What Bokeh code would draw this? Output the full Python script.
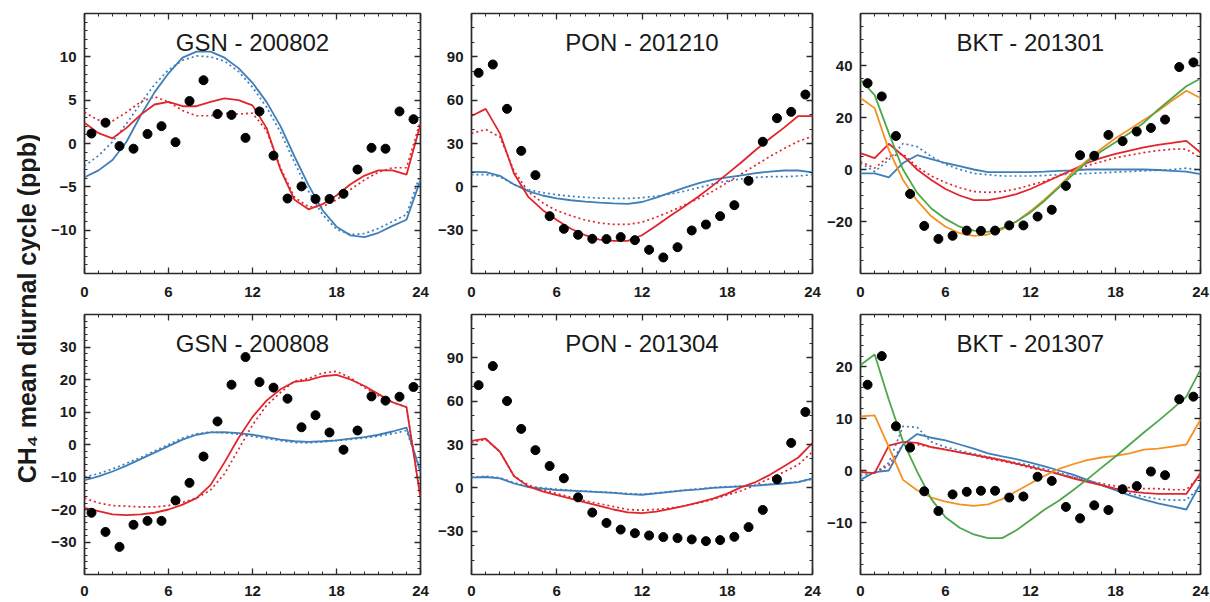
import math
import numpy as np
from bokeh.plotting import figure
from bokeh.layouts import row, column
from bokeh.models import Label, FixedTicker, LinearAxis, Range1d, CustomJSTickFormatter
from bokeh.embed import file_html
from bokeh.resources import INLINE

# ---------------- data ----------------
hours = list(range(25))                    # model output, hourly
obs_hours = [h + 0.5 for h in range(24)]   # observations, half-hour centred

x_ticks = [0, 6, 12, 18, 24]

# GSN - 200802
gsn0802_obs = [1.15, 2.4, -0.3, -0.6, 1.1, 2.0, 0.15, 4.9, 7.3, 3.4, 3.3, 0.65, 3.7, -1.4,
               -6.35, -4.95, -6.4, -6.4, -5.8, -3.0, -0.5, -0.6, 3.7, 2.8]
gsn0802_blue = [-3.9, -3.1, -1.9, 0.2, 3.2, 5.9, 8.1, 9.9, 10.6, 10.6, 9.9, 8.7, 7.0, 4.8, 2.0,
                -1.5, -4.8, -7.7, -9.6, -10.6, -10.8, -10.3, -9.5, -8.8, -4.2]
gsn0802_blue_dot = [-2.6, -1.4, 0.2, 2.3, 4.6, 6.8, 8.5, 9.6, 10.1, 10.0, 9.5, 8.3, 6.5, 4.2, 1.3,
                    -2.2, -5.5, -8.2, -9.9, -10.5, -10.4, -9.8, -9.0, -8.2, -3.5]
gsn0802_red = [2.4, 1.2, 0.6, 1.8, 3.3, 4.5, 4.8, 4.3, 4.3, 4.8, 5.2, 5.0, 4.4, 1.8, -3.0,
               -6.5, -7.6, -7.0, -6.0, -4.7, -3.7, -3.1, -3.1, -3.6, 2.2]
gsn0802_red_dot = [3.6, 2.7, 2.6, 3.6, 4.8, 5.4, 4.8, 3.8, 3.2, 3.2, 3.5, 3.4, 3.5, 1.5, -2.8,
                   -6.2, -7.3, -7.3, -6.5, -5.3, -4.2, -3.3, -2.8, -2.8, 2.6]

# PON - 201210
pon1210_obs = [78.9, 84.7, 54.0, 24.9, 8.1, -20.3, -29.1, -33.2, -36.0, -36.2, -34.8, -36.9,
               -43.6, -48.9, -41.8, -30.2, -26.1, -20.3, -12.7, 4.2, 31.2, 47.5, 51.9, 63.9]
pon1210_red = [49, 54, 37, 9, -7, -16, -23, -29, -33.5, -36.5, -37.4, -37.4, -33.5, -27, -20,
               -13.5, -6.5, 1, 9, 17, 25.5, 33.5, 41, 49, 49]
pon1210_red_dot = [37, 39.7, 34.6, 11, -3.5, -11, -16.5, -20, -23, -25, -26, -26, -24.5, -21, -17,
                   -12.5, -8, -3, 3, 9, 15, 21, 26.5, 31.5, 35]
pon1210_blue = [10.4, 10.2, 7.6, 1.6, -3, -6, -8, -9.3, -10.3, -11, -11.5, -11.8, -10.5, -7.5, -4,
                -0.5, 2.5, 5, 6.5, 8, 9.5, 10.5, 11.3, 11.3, 10]
pon1210_blue_dot = [8.5, 8.5, 7, 1.5, -2, -4, -5.5, -6.5, -7.3, -7.8, -8, -8, -7.5, -6.5, -5,
                    -3, -0.5, 2, 4, 5.5, 6.5, 7, 7, 7.5, 8.5]

# BKT - 201301
bkt1301_obs = [33.2, 28.1, 12.9, -9.4, -21.7, -26.7, -25.5, -23.5, -23.6, -23.5, -21.5, -21.5,
               -18.1, -15.5, -6.3, 5.5, 5.3, 13.3, 10.9, 14.6, 16.0, 19.2, 39.4, 41.2]
bkt1301_green = [34.5, 28.6, 14, 0, -9, -15, -19, -22, -23.5, -24, -22.5, -20, -16.5, -12, -7,
                 -2, 3, 7, 10.5, 14, 18, 23, 27.5, 32, 35]
bkt1301_orange = [27.5, 23.6, 7.5, -4, -12, -18, -22, -24.5, -25.5, -25, -23, -20, -16, -11.5,
                  -6.5, -1, 3.5, 8, 12, 15.5, 19, 22.5, 26.5, 30.3, 27.5]
bkt1301_red = [6.3, 4.4, 9.9, 5.3, 0, -4, -7.5, -10, -11.8, -11.8, -10.8, -9.5, -7.5, -5, -2.5,
               0, 2.5, 4.5, 6, 7.3, 8.5, 9.5, 10.2, 11, 6.5]
bkt1301_red_dot = [3, 0.5, 5, 6, 1, -2.5, -5, -7, -8.5, -8.8, -8.5, -7.5, -6, -4.5, -2.5,
                   -0.5, 1.5, 3, 4.5, 5.5, 6.5, 7.3, 7.8, 7.8, 4.5]
bkt1301_blue = [-1.5, -1.5, -3, 2.5, 5.5, 4, 2.5, 1.3, 0, -1, -1, -1, -1, -0.8, -0.5, -0.3,
                0, 0, 0, 0, 0, -0.2, -0.5, -0.8, -1.8]
bkt1301_blue_dot = [2.4, -0.8, 3.7, 10, 8.8, 5, 2, 0, -1.5, -2, -2.5, -2.5, -2.5, -2.3, -2,
                    -1.8, -1.5, -1.3, -1, -0.8, -0.5, -0.3, 0, 0.5, -0.3]

# GSN - 200808
gsn0808_obs = [-21, -26.9, -31.5, -24.7, -23.5, -23.5, -17.2, -11.8, -3.7, 7.1, 18.4, 26.9,
               19.2, 17.5, 14.1, 5.3, 9.0, 3.7, -1.6, 4.3, 14.8, 13.5, 14.7, 17.7]
gsn0808_red = [-19.5, -20.5, -21.5, -21.7, -21.5, -21, -20, -18.5, -16.5, -12.5, -5.5, 2, 8.5,
               13.5, 17, 19.3, 19.8, 21, 21.4, 20, 18, 15.5, 13, 11.5, -16.5]
gsn0808_red_dot = [-16.5, -18, -18.8, -19, -19.2, -19.2, -18.8, -17.8, -16.5, -14, -9, -1.5, 6,
                   12, 16, 19.5, 20.3, 22, 22.5, 20.5, 17.5, 15, 13, 11.5, -16]
gsn0808_blue = [-11, -9.8, -8.3, -6.5, -4.5, -2.5, -0.5, 1.5, 3, 3.7, 3.8, 3.5, 3, 2.3, 1.5,
                1, 0.8, 1, 1.3, 1.8, 2.3, 3, 4, 5.2, -8.5]
gsn0808_blue_dot = [-10, -9, -7.5, -5.8, -4, -2, 0, 2, 3.3, 3.8, 3.6, 3.2, 2.5, 1.8, 1.2, 0.6,
                    0.5, 0.8, 1.2, 1.6, 2, 2.6, 3.3, 4.3, -8]

# PON - 201304
pon1304_obs = [71.1, 84.3, 60.1, 40.8, 26.1, 15.1, 6.6, -6.6, -17.1, -24.3, -28.9, -31.4, -33.0,
               -34.1, -34.8, -35.7, -36.9, -36.2, -33.9, -27.2, -15.3, 5.9, 31.1, 52.5]
pon1304_red = [32.5, 34, 25, 8, 1, -2.5, -5, -7.5, -10, -12.5, -15, -17, -17.5, -16.5, -14.5,
               -12.5, -10, -7.5, -4, 0.5, 4, 9, 15, 21, 31]
pon1304_red_dot = [31.5, 33.5, 25, 8, 2, -1.5, -4, -6.5, -9, -11, -13, -15, -15.5, -15, -14,
                   -12.5, -10.5, -8, -5, -2, 2, 6.5, 11, 16, 25]
pon1304_blue = [7, 7.5, 6.5, 3, 0.5, -0.5, -1.5, -2, -2.5, -3, -3.5, -4.3, -4.8, -3.8, -2.8,
                -1.8, -1, 0, 0.5, 1, 1.5, 2.3, 3, 4, 6.5]
pon1304_blue_dot = [7.5, 8, 7, 3.5, 1, 0, -1, -1.8, -2.3, -2.8, -3.3, -4, -4.5, -3.5, -2.5,
                    -1.5, -0.7, 0.3, 0.8, 1.2, 1.8, 2.5, 3.2, 4.2, 6]

# BKT - 201307
bkt1307_obs = [16.5, 22, 8.5, 4.4, -4.0, -7.8, -4.6, -4.1, -3.9, -3.9, -5.2, -5.0, -1.2, -2.0,
               -7.0, -9.2, -6.7, -7.6, -3.6, -3.0, -0.2, -0.9, 13.7, 14.2]
bkt1307_green = [20.3, 22.3, 13.6, 5.6, -0.2, -5.5, -9, -11, -12.3, -13, -13, -11.5, -9.5, -7.5,
                 -5.8, -3.8, -1.7, 0.5, 2.7, 5, 7.3, 9.5, 11.8, 14.2, 19.4]
bkt1307_orange = [10.4, 10.6, 4.5, -1.8, -3.8, -5.2, -6, -6.5, -6.8, -6.5, -5.5, -4, -2.5, -1,
                  0.3, 1.2, 2.0, 2.5, 2.8, 3.3, 4.0, 4.2, 4.6, 5.0, 9.8]
bkt1307_red = [-0.3, -0.5, 4.8, 5.5, 5.3, 4.5, 4, 3.5, 3, 2.5, 2, 1.3, 0.7, 0, -0.7, -1.5,
               -2.2, -2.8, -3.5, -4, -4.3, -4.5, -4.5, -4.5, -0.5]
bkt1307_red_dot = [-0.3, -0.5, 1, 5, 5, 4.5, 4, 3.5, 3, 2.3, 1.8, 1.2, 0.5, 0, -0.7, -1.3,
                   -2, -2.5, -3, -3.3, -3.5, -3.5, -3.7, -3.7, -1]
bkt1307_blue = [-1.8, -0.3, 0, 5, 7, 6.3, 5.8, 5, 4.2, 3.3, 2.7, 2.2, 1.5, 0.8, 0, -0.8,
                -1.8, -2.8, -3.8, -4.8, -5.6, -6.3, -6.9, -7.5, -2.5]
bkt1307_blue_dot = [-1, -0.5, 1.5, 8.5, 8.3, 5.5, 4.5, 3.8, 3.2, 2.6, 2, 1.5, 1, 0.3, -0.4,
                    -1.2, -2, -2.8, -3.6, -4.4, -5, -5.5, -5.7, -5.7, -3]

# ---------------- style ----------------
BLUE = "#3f7fb9"
RED = "#e0262c"
GREEN = "#4ea64a"
ORANGE = "#f39222"
FRAME = "#2a2a2a"
FONT = "Liberation Sans"


def make_panel(title, obs, series, ylo, yhi, yticks, ystep,
               width, geom_x, geom_y):
    bl, br = geom_x
    bt, fh, bb, xstand = geom_y
    height = bt + fh + bb
    p = figure(width=width, height=height,
               x_range=Range1d(0, 24), y_range=Range1d(ylo, yhi),
               toolbar_location=None, output_backend="svg",
               min_border_left=bl, min_border_right=br,
               min_border_top=bt, min_border_bottom=bb)
    p.xgrid.visible = False
    p.ygrid.visible = False
    p.outline_line_color = FRAME
    p.outline_line_width = 1.7
    p.outline_line_alpha = 1.0
    p.background_fill_color = "white"
    p.border_fill_color = "white"

    bottom = p.below[0]
    left = p.left[0]

    xminor = list(range(0, 25))
    yminor = list(np.arange(ylo, yhi + ystep / 2, ystep))

    bottom.ticker = FixedTicker(ticks=x_ticks, minor_ticks=xminor)
    left.ticker = FixedTicker(ticks=yticks, minor_ticks=yminor)

    top = LinearAxis(ticker=FixedTicker(ticks=x_ticks, minor_ticks=xminor),
                     formatter=CustomJSTickFormatter(code="return ''"))
    right = LinearAxis(ticker=FixedTicker(ticks=yticks, minor_ticks=yminor),
                       formatter=CustomJSTickFormatter(code="return ''"))
    p.add_layout(top, "above")
    p.add_layout(right, "right")

    for ax in [bottom, left, top, right]:
        ax.axis_line_color = None
        ax.major_tick_in = 6
        ax.major_tick_out = 0
        ax.minor_tick_in = 3
        ax.minor_tick_out = 0
        ax.major_tick_line_color = FRAME
        ax.minor_tick_line_color = FRAME
        ax.major_tick_line_width = 1.3
        ax.minor_tick_line_width = 1.0
    for ax in [top, right]:
        ax.major_label_standoff = 0
    for ax in [bottom, left]:
        ax.major_label_text_font = FONT
        ax.major_label_text_font_style = "bold"
        ax.major_label_text_font_size = "15px"
        ax.major_label_text_color = "#1a1a1a"
    bottom.major_label_standoff = xstand
    left.major_label_standoff = 8

    for ys, color, dash in series:
        if dash:
            p.line(hours, ys, line_color=color, line_width=1.7, line_dash="2 3")
        else:
            p.line(hours, ys, line_color=color, line_width=1.8)

    p.scatter(obs_hours, obs, size=9, marker="circle",
              fill_color="black", line_color="black")

    title_y = yhi - (yhi - ylo) * 29.0 / fh
    p.add_layout(Label(x=12, y=title_y, text=title, text_align="center",
                       text_baseline="middle", text_font=FONT,
                       text_font_size="24px", text_color="#1a1a1a"))
    return p


# column/row geometry: (width, (border_left, border_right))
COLS = [(392, (44, 12)), (392, (39, 12)), (386, (36, 10))]
# rows: (border_top, frame_height, border_bottom, x-label standoff)
ROWS = [(13, 260, 31, 13), (10, 260, 28, 11)]

p1 = make_panel("GSN - 200802", gsn0802_obs,
                [(gsn0802_blue_dot, BLUE, True), (gsn0802_red_dot, RED, True),
                 (gsn0802_blue, BLUE, False), (gsn0802_red, RED, False)],
                -15, 15, [-10, -5, 0, 5, 10], 1, COLS[0][0], COLS[0][1], ROWS[0])
p2 = make_panel("PON - 201210", pon1210_obs,
                [(pon1210_blue_dot, BLUE, True), (pon1210_red_dot, RED, True),
                 (pon1210_blue, BLUE, False), (pon1210_red, RED, False)],
                -60, 120, [-30, 0, 30, 60, 90], 10, COLS[1][0], COLS[1][1], ROWS[0])
p3 = make_panel("BKT - 201301", bkt1301_obs,
                [(bkt1301_blue_dot, BLUE, True), (bkt1301_red_dot, RED, True),
                 (bkt1301_blue, BLUE, False), (bkt1301_red, RED, False),
                 (bkt1301_orange, ORANGE, False), (bkt1301_green, GREEN, False)],
                -40, 60, [-20, 0, 20, 40], 5, COLS[2][0], COLS[2][1], ROWS[0])
p4 = make_panel("GSN - 200808", gsn0808_obs,
                [(gsn0808_blue_dot, BLUE, True), (gsn0808_red_dot, RED, True),
                 (gsn0808_blue, BLUE, False), (gsn0808_red, RED, False)],
                -40, 40, [-30, -20, -10, 0, 10, 20, 30], 2, COLS[0][0], COLS[0][1], ROWS[1])
p5 = make_panel("PON - 201304", pon1304_obs,
                [(pon1304_blue_dot, BLUE, True), (pon1304_red_dot, RED, True),
                 (pon1304_blue, BLUE, False), (pon1304_red, RED, False)],
                -60, 120, [-30, 0, 30, 60, 90], 10, COLS[1][0], COLS[1][1], ROWS[1])
p6 = make_panel("BKT - 201307", bkt1307_obs,
                [(bkt1307_blue_dot, BLUE, True), (bkt1307_red_dot, RED, True),
                 (bkt1307_blue, BLUE, False), (bkt1307_red, RED, False),
                 (bkt1307_orange, ORANGE, False), (bkt1307_green, GREEN, False)],
                -20, 30, [-10, 0, 10, 20], 2, COLS[2][0], COLS[2][1], ROWS[1])

# shared y-axis title
lab = figure(width=40, height=602, x_range=Range1d(0, 40), y_range=Range1d(0, 602),
             toolbar_location=None, output_backend="svg", min_border=0)
lab.axis.visible = False
lab.grid.visible = False
lab.outline_line_color = None
lab.add_layout(Label(x=26, y=294, text="CH\u2084 mean diurnal cycle (ppb)",
                     angle=math.pi / 2, text_align="center", text_baseline="middle",
                     text_font=FONT, text_font_style="bold", text_font_size="25px",
                     text_color="#1a1a1a"))

layout = row(lab, column(row(p1, p2, p3), row(p4, p5, p6)))

open("out.html", "w").write(file_html(layout, INLINE))
